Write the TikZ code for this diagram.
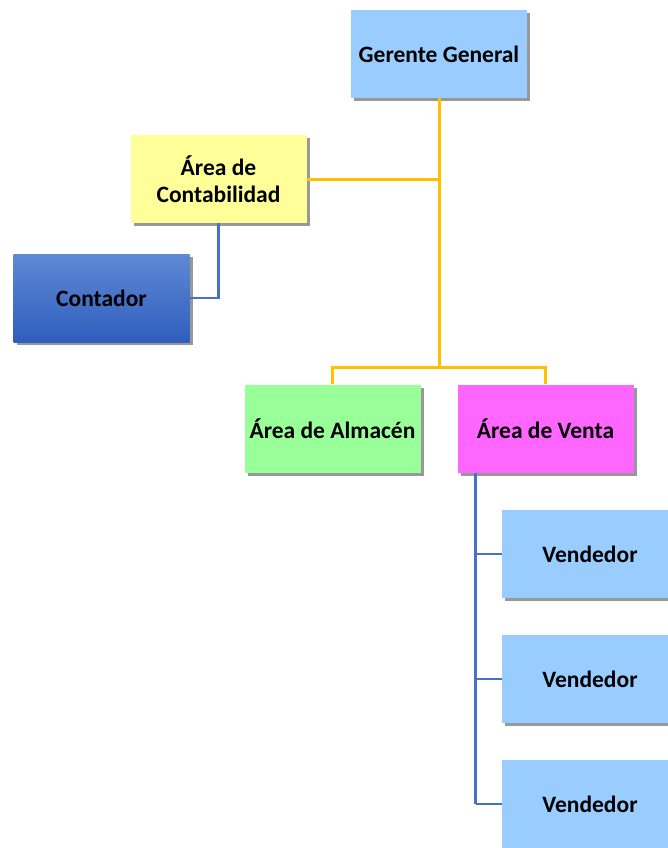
\documentclass[tikz,border=0pt]{standalone}
\usepackage{fontspec}
\setmainfont{Carlito}
\usetikzlibrary{shadows}
\definecolor{gold}{HTML}{FFC000}
\definecolor{cblue}{HTML}{4472C4}
\definecolor{ctop}{HTML}{6088D4}
\definecolor{cbot}{HTML}{2E5EBE}
\definecolor{lblue}{HTML}{99CCFF}
\definecolor{lyellow}{HTML}{FFFF99}
\definecolor{lgreen}{HTML}{99FF99}
\definecolor{magen}{HTML}{FF66FF}
\tikzset{
  box/.style={minimum width=176pt, minimum height=88pt, inner sep=2pt, align=center,
    font=\fontsize{23.5}{27}\selectfont\bfseries,
    drop shadow={shadow xshift=3pt, shadow yshift=-3pt, opacity=0.5, fill=black!80}},
  goldline/.style={draw=gold, line width=3pt},
  blueline/.style={draw=cblue, line width=2.8pt},
}
\begin{document}
\begin{tikzpicture}[x=1pt,y=-1pt]
\clip (0,0) rectangle (668,848);
\fill[white] (0,0) rectangle (668,848);
\node[box, fill=lblue] (gg) at (439,54) {Gerente General};
\node[box, fill=lyellow] (ac) at (218.5,179) {Área de\\Contabilidad};
\node[box, top color=ctop, bottom color=cbot] (co) at (101.5,298) {Contador};
\node[box, fill=lgreen] (aa) at (332.5,428.5) {Área de Almacén};
\node[box, fill=magen] (av) at (545.5,428.5) {Área de Venta};
\node[box, fill=lblue] (v1) at (590,554) {Vendedor};
\node[box, fill=lblue] (v2) at (590,679) {Vendedor};
\node[box, fill=lblue] (v3) at (590,804) {Vendedor};
\coordinate (j1) at (439,367);
\draw[goldline] (gg.south) -- (j1);
\draw[goldline] (ac.east) -- (ac.east -| gg.south);
\draw[goldline] (aa.north) |- (j1) -| (av.north);
\draw[blueline] (ac.south) |- (co.east);
\coordinate (vb) at ([xshift=-70pt]av.south);
\draw[blueline] (av.south -| vb) -- (v3.west -| vb);
\draw[blueline] (v1.west -| vb) -- (v1.west);
\draw[blueline] (v2.west -| vb) -- (v2.west);
\draw[blueline] (v3.west -| vb) -- (v3.west);
\end{tikzpicture}
\end{document}
